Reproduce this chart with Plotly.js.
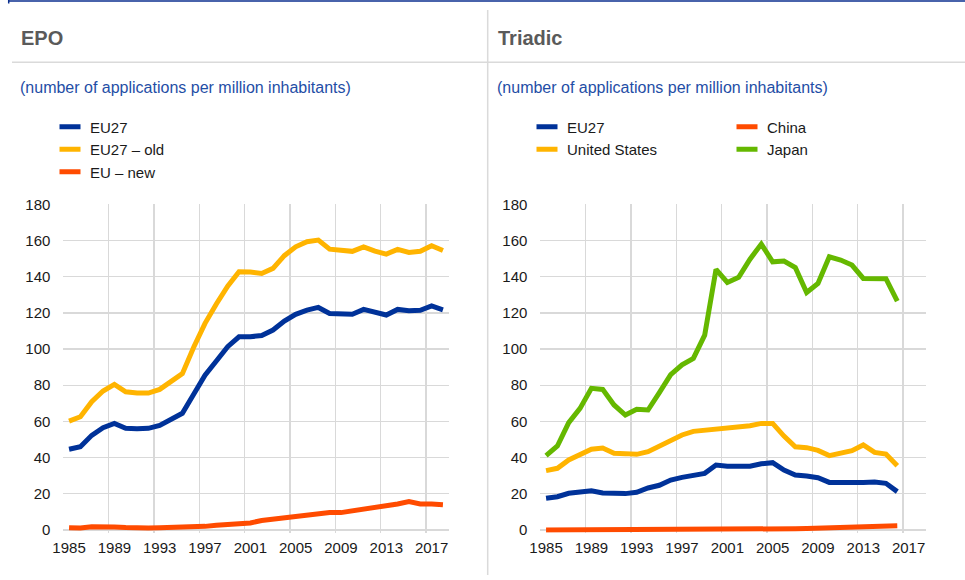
<!DOCTYPE html>
<html>
<head>
<meta charset="utf-8">
<script src="https://cdn.plot.ly/plotly-3.0.1.min.js"></script>
<style>
  html, body { margin: 0; padding: 0; background: #ffffff; }
  #chart { width: 965px; height: 580px; }
</style>
</head>
<body>
<div id="chart"></div>
<script>
// ---------- data ----------
const yearsAll = [1985,1986,1987,1988,1989,1990,1991,1992,1993,1994,1995,1996,1997,1998,1999,2000,
                  2001,2002,2003,2004,2005,2006,2007,2008,2009,2010,2011,2012,2013,2014,2015,2016,2017,2018];
const yearsTriadic = [1985,1986,1987,1988,1989,1990,1991,1992,1993,1994,1995,1996,1997,1998,1999,2000,
                      2001,2002,2003,2004,2005,2006,2007,2008,2009,2010,2011,2012,2013,2014,2015,2016];

// EPO (number of applications per million inhabitants)
const epoEU27 = [44.6,46.0,52.3,56.5,58.9,56.2,56.0,56.2,57.8,61.1,64.5,75.0,85.5,93.4,101.3,106.8,
                 106.8,107.5,110.5,115.5,119.2,121.5,123.0,119.7,119.2,119.2,121.9,120.3,118.8,121.9,121.2,121.4,123.8,121.7];
const epoEU27old = [60.2,62.6,70.9,76.8,80.5,76.4,75.7,75.7,77.7,82.3,86.4,101.0,114.2,124.9,134.8,142.7,
                    142.6,141.8,144.6,151.6,156.5,159.3,160.2,155.2,154.5,154.0,156.5,154.1,152.5,155.1,153.4,154.0,157.1,154.5];
const epoEUnew = [1.3,1.1,1.8,1.9,1.7,1.4,1.1,1.1,1.2,1.3,1.5,1.7,2.0,2.6,3.1,3.6,
                  3.9,5.2,5.9,6.4,6.8,7.7,8.8,9.6,9.6,10.5,11.4,12.7,13.1,14.4,15.7,14.4,14.4,14.0];

// Triadic (number of applications per million inhabitants)
const triEU27 = [17.5,18.4,20.3,21.0,21.7,20.4,20.1,20.1,20.8,23.2,24.7,27.6,29.1,30.4,31.3,35.9,
                 35.2,35.2,35.2,36.6,37.2,33.1,30.4,29.8,28.9,26.3,26.2,25.8,26.3,26.5,25.8,21.2];
const triUS = [32.8,34.1,38.7,41.8,44.6,45.3,42.4,42.2,41.8,43.3,46.6,49.2,52.5,54.5,55.2,55.8,
               56.0,57.1,57.6,58.9,58.9,51.9,46.0,45.5,44.0,41.1,42.4,43.8,47.0,42.9,42.0,35.5];
const triChina = [0.05,0.05,0.05,0.05,0.05,0.05,0.05,0.05,0.05,0.05,0.05,0.05,0.05,0.1,0.1,0.1,
                  0.2,0.2,0.3,0.4,0.5,0.6,0.7,0.8,1.0,1.2,1.3,1.5,1.7,1.9,2.2,2.3];
const triJapan = [41.1,46.4,59.3,67.2,78.3,77.7,69.1,63.5,66.7,66.3,75.9,85.8,91.3,94.8,107.7,144.0,
                  136.8,139.6,149.7,158.0,148.2,148.6,145.1,131.3,136.3,151.0,149.2,146.4,139.0,138.9,138.9,126.5];

const yTicks = [0,20,40,60,80,100,120,140,160,180];

// ---------- styles ----------
const C_BLUE = '#003299', C_YELLOW = '#ffb400', C_ORANGE = '#ff4b00', C_GREEN = '#65b800';
const LW = 5;
const FONT = 'Arial, "Liberation Sans", Helvetica, sans-serif';

function line(x, y, color, xa, ya) {
  return { x: x.map(String), y: y, type: 'scatter', mode: 'lines', xaxis: xa, yaxis: ya,
           line: { color: color, width: LW, shape: 'linear' }, showlegend: false, hoverinfo: 'skip' };
}
function legendItem(name, color, legendId) {
  return { x: [null], y: [null], type: 'scatter', mode: 'markers', name: name, legend: legendId,
           xaxis: 'x', yaxis: 'y',
           marker: { symbol: 'line-ew', size: 15, color: color, line: { color: color, width: 6 } },
           showlegend: true, hoverinfo: 'skip' };
}

const traces = [
  line(yearsAll, epoEU27old, C_YELLOW, 'x', 'y'),
  line(yearsAll, epoEU27, C_BLUE, 'x', 'y'),
  line(yearsAll, epoEUnew, C_ORANGE, 'x', 'y'),
  line(yearsTriadic, triChina, C_ORANGE, 'x2', 'y2'),
  line(yearsTriadic, triEU27, C_BLUE, 'x2', 'y2'),
  line(yearsTriadic, triUS, C_YELLOW, 'x2', 'y2'),
  line(yearsTriadic, triJapan, C_GREEN, 'x2', 'y2'),
  legendItem('EU27', C_BLUE, 'legend'),
  legendItem('EU27 – old', C_YELLOW, 'legend'),
  legendItem('EU – new', C_ORANGE, 'legend'),
  legendItem('EU27', C_BLUE, 'legend2'),
  legendItem('United States', C_YELLOW, 'legend2'),
  legendItem('China', C_ORANGE, 'legend3'),
  legendItem('Japan', C_GREEN, 'legend3')
];

const W = 965, H = 580;
const px = v => v / W;
const py = v => 1 - v / H;

const GRID = '#d9d9d9';
function xAxis(domain, anchor) {
  return {
    type: 'category', categoryorder: 'array', categoryarray: yearsAll.map(String),
    range: [-0.5, yearsAll.length - 0.5], domain: domain, anchor: anchor,
    tickson: 'boundaries', tickmode: 'linear', tick0: 0, dtick: 4, tickangle: 0,
    showgrid: true, gridcolor: GRID, gridwidth: 1.3,
    showline: false, zeroline: false, ticks: '', ticklabelstandoff: 4,
    tickfont: { family: FONT, size: 15, color: '#1a1a1a' }, fixedrange: true
  };
}
function yAxis(anchor) {
  return {
    range: [-1.5, 180], domain: [py(532.7), py(204.3)], anchor: anchor,
    tickmode: 'array', tickvals: yTicks, ticktext: yTicks.map(String),
    showgrid: true, gridcolor: GRID, gridwidth: 1.3,
    showline: false, zeroline: false, ticks: '', ticklabelstandoff: 12,
    tickfont: { family: FONT, size: 15, color: '#1a1a1a' }, fixedrange: true
  };
}

const legendBase = {
  bgcolor: 'rgba(0,0,0,0)', borderwidth: 0, orientation: 'v',
  font: { family: FONT, size: 15, color: '#1a1a1a' },
  xanchor: 'left', yanchor: 'top', tracegroupgap: 0, itemclick: false, itemdoubleclick: false
};

const layout = {
  width: W, height: H,
  margin: { l: 0, r: 0, t: 0, b: 0, pad: 0 },
  paper_bgcolor: '#ffffff', plot_bgcolor: '#ffffff',
  showlegend: true,
  xaxis: xAxis([px(63.4), px(448.6)], 'y'),
  yaxis: yAxis('x'),
  xaxis2: xAxis([px(540.4), px(925.6)], 'y2'),
  yaxis2: yAxis('x2'),
  legend: Object.assign({}, legendBase, { x: px(50), y: py(110.5) }),
  legend2: Object.assign({}, legendBase, { x: px(527), y: py(110.5) }),
  legend3: Object.assign({}, legendBase, { x: px(727), y: py(110.5) }),
  shapes: [
    { type: 'line', xref: 'paper', yref: 'paper', x0: px(8), x1: 1, y0: py(1), y1: py(1),
      line: { color: '#0b2f8f', width: 1.5 } },
    { type: 'line', xref: 'paper', yref: 'paper', x0: px(8.7), x1: px(8.7), y0: py(0), y1: py(3.5),
      line: { color: '#0b2f8f', width: 1.5 } },
    { type: 'line', xref: 'paper', yref: 'paper', x0: px(12), x1: 1, y0: py(62.3), y1: py(62.3),
      line: { color: '#dadada', width: 1.5 } },
    { type: 'line', xref: 'paper', yref: 'paper', x0: px(487.7), x1: px(487.7), y0: py(10), y1: py(575),
      line: { color: '#dadada', width: 1.5 } }
  ],
  annotations: [
    { text: '<b>EPO</b>', xref: 'paper', yref: 'paper', x: px(19), y: py(37.5), xanchor: 'left', yanchor: 'middle',
      showarrow: false, font: { family: FONT, size: 20, color: '#5a5a5a' } },
    { text: '<b>Triadic</b>', xref: 'paper', yref: 'paper', x: px(496), y: py(37.5), xanchor: 'left', yanchor: 'middle',
      showarrow: false, font: { family: FONT, size: 20, color: '#5a5a5a' } },
    { text: '(number of applications per million inhabitants)', xref: 'paper', yref: 'paper', x: px(18), y: py(88),
      xanchor: 'left', yanchor: 'middle', showarrow: false, font: { family: FONT, size: 16, color: '#1f4ea6' } },
    { text: '(number of applications per million inhabitants)', xref: 'paper', yref: 'paper', x: px(495), y: py(88),
      xanchor: 'left', yanchor: 'middle', showarrow: false, font: { family: FONT, size: 16, color: '#1f4ea6' } }
  ]
};

Plotly.newPlot('chart', traces, layout, { staticPlot: true, displayModeBar: false });
</script>
</body>
</html>
